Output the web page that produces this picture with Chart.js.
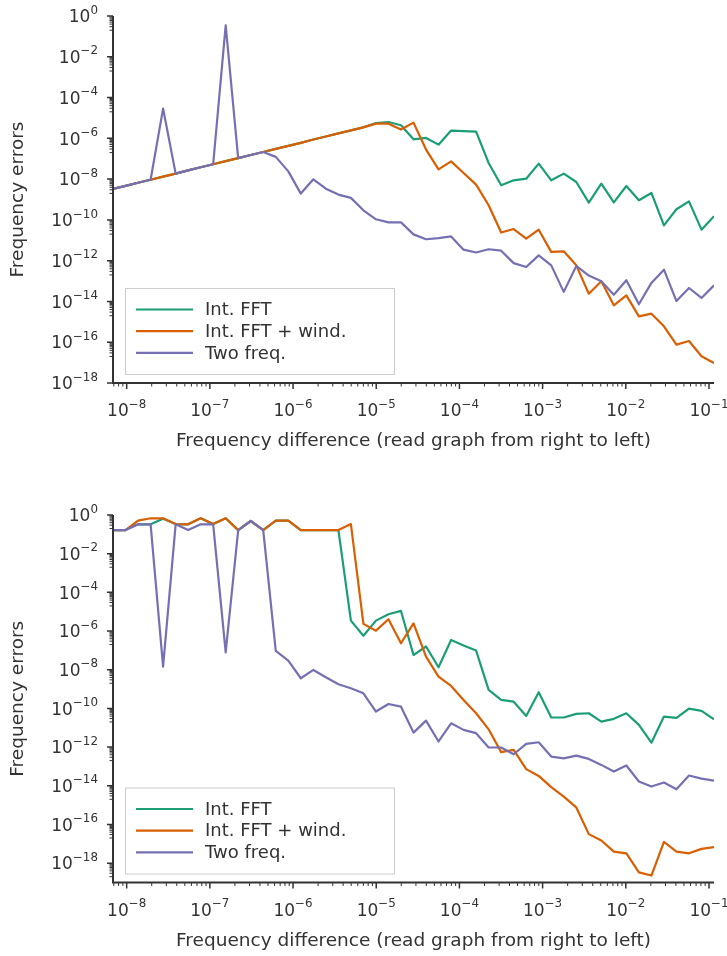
<!DOCTYPE html>
<html>
<head>
<meta charset="utf-8">
<script src="https://cdn.jsdelivr.net/npm/chart.js@4.4.0/dist/chart.umd.min.js"></script>
<style>
  html, body { margin: 0; padding: 0; background: #fff; }
  body { width: 727px; height: 956px; position: relative; overflow: hidden; }
  .panel { position: absolute; left: 0; width: 727px; height: 478px; }
  #topPanel { top: 0; }
  #bottomPanel { top: 478px; }
</style>
</head>
<body>
<div class="panel" id="topPanel"><canvas id="topChart"></canvas></div>
<div class="panel" id="bottomPanel"><canvas id="bottomChart"></canvas></div>
<script>
// frequency difference of each run (x), sqrt(2) apart
const freqDiff = [
  6.85e-9, 9.69e-9, 1.37e-8, 1.94e-8, 2.74e-8, 3.88e-8, 5.48e-8, 7.75e-8,
  1.096e-7, 1.55e-7, 2.19e-7, 3.10e-7, 4.38e-7, 6.20e-7, 8.77e-7,
  1.24e-6, 1.754e-6, 2.48e-6, 3.51e-6, 4.96e-6, 7.01e-6, 9.92e-6,
  1.403e-5, 1.984e-5, 2.806e-5, 3.968e-5, 5.61e-5, 7.94e-5,
  1.122e-4, 1.587e-4, 2.245e-4, 3.175e-4, 4.49e-4, 6.35e-4, 8.98e-4,
  1.270e-3, 1.796e-3, 2.540e-3, 3.592e-3, 5.08e-3, 7.18e-3,
  1.016e-2, 1.437e-2, 2.032e-2, 2.874e-2, 4.064e-2, 5.75e-2, 8.13e-2, 0.1149
];

// errors, as powers of ten
// upper panel
const topFFT = [
  -8.48, -8.33, -8.18, -8.03, -7.88, -7.73, -7.57, -7.42, -7.27, -7.12, -6.97,
  -6.82, -6.67, -6.52, -6.37, -6.22, -6.06, -5.91, -5.76, -5.61, -5.46,
  -5.25, -5.20, -5.36, -6.05, -5.98, -6.31, -5.62, -5.65, -5.67, -7.21, -8.30, -8.06,
  -7.98, -7.24, -8.06, -7.73, -8.14, -9.15, -8.22, -9.14, -8.34, -9.04, -8.68,
  -10.27, -9.48, -9.09, -10.48, -9.82
];
const topWind = [
  -8.48, -8.33, -8.18, -8.03, -7.88, -7.73, -7.57, -7.42, -7.27, -7.12, -6.97,
  -6.82, -6.67, -6.52, -6.37, -6.22, -6.06, -5.91, -5.76, -5.61, -5.46,
  -5.28, -5.28, -5.57, -5.23, -6.55, -7.52, -7.13, -7.70, -8.27, -9.28, -10.62, -10.45,
  -10.92, -10.48, -11.57, -11.54, -12.23, -13.62, -13.01, -14.19, -13.70, -14.73, -14.60,
  -15.22, -16.12, -15.94, -16.69, -17.02
];
const topTwo = [
  -8.48, -8.33, -8.18, -8.03, -4.54, -7.73, -7.57, -7.42, -7.27, -0.46, -6.97,
  -6.82, -6.67, -6.91, -7.62, -8.71, -8.01, -8.47, -8.76, -8.92, -9.53,
  -9.97, -10.12, -10.12, -10.71, -10.95, -10.89, -10.81, -11.46, -11.60, -11.44, -11.51, -12.12,
  -12.31, -11.74, -12.23, -13.53, -12.26, -12.73, -13.01, -13.67, -12.96, -14.14, -13.09,
  -12.44, -13.98, -13.34, -13.83, -13.21
];

// lower panel
const botFFT = [
  -0.78, -0.78, -0.48, -0.48, -0.19, -0.47, -0.48, -0.17, -0.47, -0.17, -0.78,
  -0.31, -0.78, -0.29, -0.29, -0.78, -0.78, -0.78, -0.78, -5.46, -6.24,
  -5.46, -5.13, -4.96, -7.24, -6.80, -7.87, -6.46, -6.75, -7.01, -9.04, -9.56, -9.65,
  -10.39, -9.16, -10.47, -10.47, -10.28, -10.25, -10.68, -10.54, -10.25, -10.85, -11.77,
  -10.42, -10.49, -10.01, -10.13, -10.56
];
const botWind = [
  -0.78, -0.78, -0.29, -0.17, -0.17, -0.47, -0.48, -0.17, -0.47, -0.17, -0.78,
  -0.31, -0.78, -0.29, -0.29, -0.78, -0.78, -0.78, -0.78, -0.47, -5.63,
  -5.98, -5.39, -6.63, -5.60, -7.32, -8.36, -8.84, -9.56, -10.25, -11.08, -12.26, -12.14,
  -13.14, -13.49, -14.07, -14.56, -15.12, -16.50, -16.83, -17.40, -17.49, -18.48, -18.64,
  -16.90, -17.40, -17.49, -17.26, -17.17
];
const botTwo = [
  -0.78, -0.78, -0.48, -0.48, -7.84, -0.48, -0.78, -0.48, -0.48, -7.10, -0.78,
  -0.31, -0.78, -7.03, -7.53, -8.44, -8.01, -8.39, -8.75, -8.96, -9.22,
  -10.16, -9.77, -9.91, -11.25, -10.63, -11.71, -10.77, -11.11, -11.28, -12.02, -12.02, -12.37,
  -11.83, -11.75, -12.49, -12.58, -12.44, -12.61, -12.92, -13.26, -12.95, -13.78, -14.04,
  -13.83, -14.18, -13.47, -13.63, -13.73
];

const seriesNames = ['Int. FFT', 'Int. FFT + wind.', 'Two freq.'];
const seriesColors = ['#1b9e77', '#d95f02', '#7570b3'];

// tick labels are 10^exp
const xTickExps = [-8, -7, -6, -5, -4, -3, -2, -1];
const yTickExps = [0, -2, -4, -6, -8, -10, -12, -14, -16, -18];

const ink = '#333333';
const fontFamily = "'DejaVu Sans', sans-serif";
const tickSize = 17;
const labelSize = 18.5;

function toPoints(logs) {
  return freqDiff.map((x, i) => ({ x: x, y: Math.pow(10, logs[i]) }));
}

// draws "10" with a raised exponent, like matplotlib's mathtext
function powerLabel(ctx, exp, x, y, align) {
  const expText = exp < 0 ? '\u2212' + Math.abs(exp) : String(exp);
  const expSize = tickSize * 0.7;
  ctx.font = tickSize + 'px ' + fontFamily;
  const w1 = ctx.measureText('10').width;
  ctx.font = expSize + 'px ' + fontFamily;
  const w2 = ctx.measureText(expText).width;
  const x0 = align === 'right' ? x - w1 - w2 : x - (w1 + w2) / 2;
  ctx.textAlign = 'left';
  ctx.textBaseline = 'alphabetic';
  ctx.font = tickSize + 'px ' + fontFamily;
  ctx.fillText('10', x0, y);
  ctx.font = expSize + 'px ' + fontFamily;
  ctx.fillText(expText, x0 + w1, y - 8.5);
}

const axisDecor = {
  id: 'axisDecor',
  afterDraw(chart) {
    const { ctx, chartArea } = chart;
    const xs = chart.scales.x, ys = chart.scales.y;
    ctx.save();
    ctx.strokeStyle = ink;
    ctx.fillStyle = ink;

    // minor ticks
    ctx.lineWidth = 1;
    ctx.beginPath();
    for (let e = -10; e <= 0; e++) {
      for (let m = 2; m <= 9; m++) {
        const v = m * Math.pow(10, e);
        if (v >= xs.min && v <= xs.max) {
          const px = xs.getPixelForValue(v);
          ctx.moveTo(px, chartArea.bottom);
          ctx.lineTo(px, chartArea.bottom + 3.5);
        }
      }
    }
    yTickExps.forEach(e => {
      for (let m = 2; m <= 9; m++) {
        const v = m * Math.pow(10, e - 1);
        if (v >= ys.min && v <= ys.max) {
          const py = ys.getPixelForValue(v);
          ctx.moveTo(chartArea.left, py);
          ctx.lineTo(chartArea.left - 3.5, py);
        }
      }
    });
    ctx.stroke();

    // major ticks
    ctx.lineWidth = 1.5;
    ctx.beginPath();
    xTickExps.forEach(e => {
      const px = xs.getPixelForValue(Math.pow(10, e));
      ctx.moveTo(px, chartArea.bottom);
      ctx.lineTo(px, chartArea.bottom + 6);
    });
    yTickExps.forEach(e => {
      const py = ys.getPixelForValue(Math.pow(10, e));
      ctx.moveTo(chartArea.left, py);
      ctx.lineTo(chartArea.left - 6, py);
    });
    ctx.stroke();

    // spines
    ctx.lineWidth = 2;
    ctx.beginPath();
    ctx.moveTo(chartArea.left, chartArea.top);
    ctx.lineTo(chartArea.left, chartArea.bottom);
    ctx.lineTo(chartArea.right, chartArea.bottom);
    ctx.stroke();

    // tick labels
    xTickExps.forEach(e => {
      powerLabel(ctx, e, xs.getPixelForValue(Math.pow(10, e)), chartArea.bottom + 33, 'center');
    });
    yTickExps.forEach(e => {
      powerLabel(ctx, e, chartArea.left - 15, ys.getPixelForValue(Math.pow(10, e)) + 6.2, 'right');
    });
    ctx.restore();
  }
};

const boxLegend = {
  id: 'boxLegend',
  afterDraw(chart) {
    const { ctx, chartArea } = chart;
    const left = chartArea.left + 12;
    const top = chartArea.bottom - 9 - 86;
    ctx.save();
    ctx.fillStyle = 'rgba(255,255,255,0.8)';
    ctx.fillRect(left, top, 269, 86);
    ctx.strokeStyle = '#cccccc';
    ctx.lineWidth = 1;
    ctx.strokeRect(left + 0.5, top + 0.5, 269, 86);
    ctx.font = '18px ' + fontFamily;
    ctx.textBaseline = 'middle';
    ctx.textAlign = 'left';
    chart.data.datasets.forEach((ds, k) => {
      const y = top + 21.5 + k * 21.7;
      ctx.strokeStyle = ds.borderColor;
      ctx.lineWidth = 2.2;
      ctx.beginPath();
      ctx.moveTo(left + 11, y);
      ctx.lineTo(left + 68, y);
      ctx.stroke();
      ctx.fillStyle = ink;
      ctx.fillText(ds.label, left + 80, y + 1);
    });
    ctx.restore();
  }
};

function makeChart(canvasId, series, yMin, padTop, xAxisHeight, xTitlePad) {
  return new Chart(document.getElementById(canvasId), {
    type: 'line',
    data: {
      datasets: series.map((logs, k) => ({
        label: seriesNames[k],
        data: toPoints(logs),
        borderColor: seriesColors[k],
        backgroundColor: seriesColors[k],
        borderWidth: 2.2,
        pointRadius: 0,
        tension: 0,
        fill: false,
        borderJoinStyle: 'round',
        order: 3 - k
      }))
    },
    options: {
      responsive: true,
      maintainAspectRatio: false,
      animation: false,
      devicePixelRatio: 1,
      layout: { padding: { top: padTop, right: 13, left: 0, bottom: 0 } },
      plugins: {
        legend: { display: false },
        tooltip: { enabled: false }
      },
      scales: {
        x: {
          type: 'logarithmic',
          min: freqDiff[0],
          max: freqDiff[freqDiff.length - 1],
          grid: { display: false },
          border: { display: false },
          ticks: { display: false },
          title: {
            display: true,
            text: 'Frequency difference (read graph from right to left)',
            color: ink,
            font: { family: fontFamily, size: labelSize },
            padding: { top: 0, bottom: xTitlePad }
          },
          afterFit: scale => {
            scale.height = xAxisHeight;
            scale.paddingLeft = 0;
            scale.paddingRight = 0;
          }
        },
        y: {
          type: 'logarithmic',
          min: yMin,
          max: 1,
          grid: { display: false },
          border: { display: false },
          ticks: { display: false },
          title: {
            display: true,
            text: 'Frequency errors',
            color: ink,
            font: { family: fontFamily, size: labelSize },
            padding: { top: 7.5, bottom: 0 }
          },
          afterFit: scale => {
            scale.width = 113;
            scale.paddingTop = 0;
            scale.paddingBottom = 0;
          }
        }
      }
    },
    plugins: [axisDecor, boxLegend]
  });
}

makeChart('topChart', [topFFT, topWind, topTwo], 1e-18, 16, 95, 26);
makeChart('bottomChart', [botFFT, botWind, botTwo], 1e-19, 37, 73.5, 4);
</script>
</body>
</html>
